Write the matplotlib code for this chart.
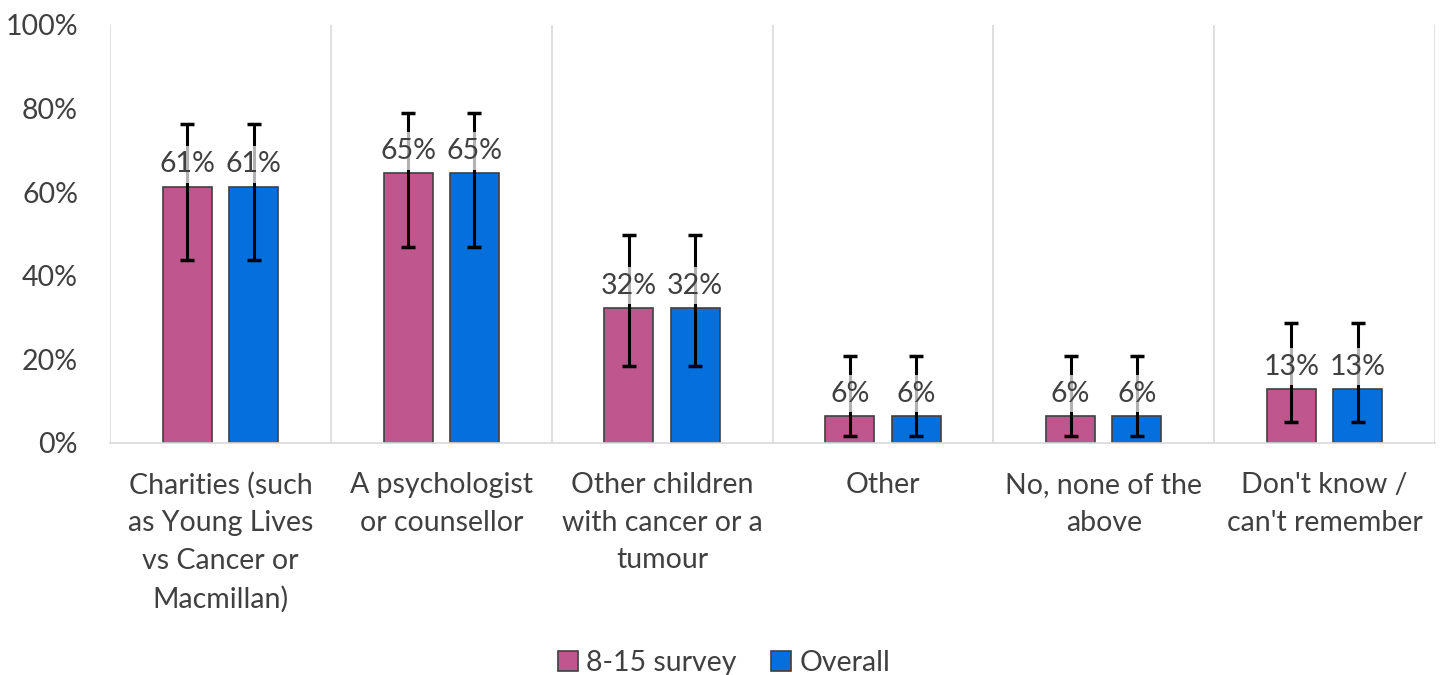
import numpy as np
import matplotlib.pyplot as plt
from matplotlib.ticker import PercentFormatter

categories = ['Charities (such\nas Young Lives\nvs Cancer or\nMacmillan)',
              'A psychologist\nor counsellor',
              'Other children\nwith cancer or a\ntumour',
              'Other',
              'No, none of the\nabove',
              "Don't know /\ncan't remember"]
survey_8_15 = [61.3, 64.5, 32.3, 6.45, 6.45, 12.9]
overall = [61.3, 64.5, 32.3, 6.45, 6.45, 12.9]
err_low = [43.8, 46.9, 18.4, 1.7, 1.7, 5.0]
err_high = [76.3, 79.0, 49.8, 20.8, 20.8, 28.7]
series_names = ['8-15 survey', 'Overall']
colors = ['#C0568E', '#056FDD']

plt.rcParams['font.family'] = ['Lato', 'DejaVu Sans']
fs = 20.5

fig = plt.figure(figsize=(14.48, 6.75), dpi=100)
ax = fig.add_axes([0.076, 0.344, 0.915, 0.619])

x = np.arange(len(categories))
w = 0.222
offsets = [-0.15, 0.15]
lo = np.array(err_low)
hi = np.array(err_high)

for vals, off, col, name in zip([survey_8_15, overall], offsets, colors, series_names):
    v = np.array(vals)
    ax.bar(x + off, v, w, color=col, edgecolor='#404040', linewidth=1.2, label=name, zorder=2)
    ax.errorbar(x + off, v, yerr=[v - lo, hi - v], fmt='none', ecolor='black',
                elinewidth=2.2, capsize=5, capthick=2.5, zorder=3)
    for xi, vi in zip(x + off, v):
        ax.text(xi, vi + 2.2, '%d%%' % int(vi + 0.5), ha='center', va='bottom', fontsize=fs,
                color='#404040', zorder=4,
                bbox=dict(boxstyle='square,pad=0.2', facecolor='white', edgecolor='none', alpha=0.7))

ax.set_ylim(0, 100)
ax.set_xlim(-0.5, len(categories) - 0.5)
ax.yaxis.set_major_formatter(PercentFormatter(decimals=0))
ax.set_yticks(np.arange(0, 101, 20))
ax.set_xticks(x)
ax.set_xticklabels(categories, fontsize=fs, color='#404040', va='top', linespacing=1.55)
ax.set_xticks(np.arange(len(categories) + 1) - 0.5, minor=True)
ax.tick_params(axis='y', labelsize=fs, labelcolor='#404040', length=0, pad=23)
ax.tick_params(axis='x', which='both', length=0, pad=21)
ax.grid(True, which='minor', axis='x', color='#d9d9d9', linewidth=1.2, zorder=0)
for s in ['top', 'right', 'left']:
    ax.spines[s].set_visible(False)
ax.spines['bottom'].set_color('#d9d9d9')
ax.spines['bottom'].set_linewidth(1.2)

fig.legend(loc='lower center', bbox_to_anchor=(0.5, -0.04), ncol=2, frameon=False,
           fontsize=fs, handlelength=0.7, handleheight=0.7, handletextpad=0.3,
           columnspacing=1.2, labelcolor='#404040')

fig.savefig('out.png', dpi=100)
